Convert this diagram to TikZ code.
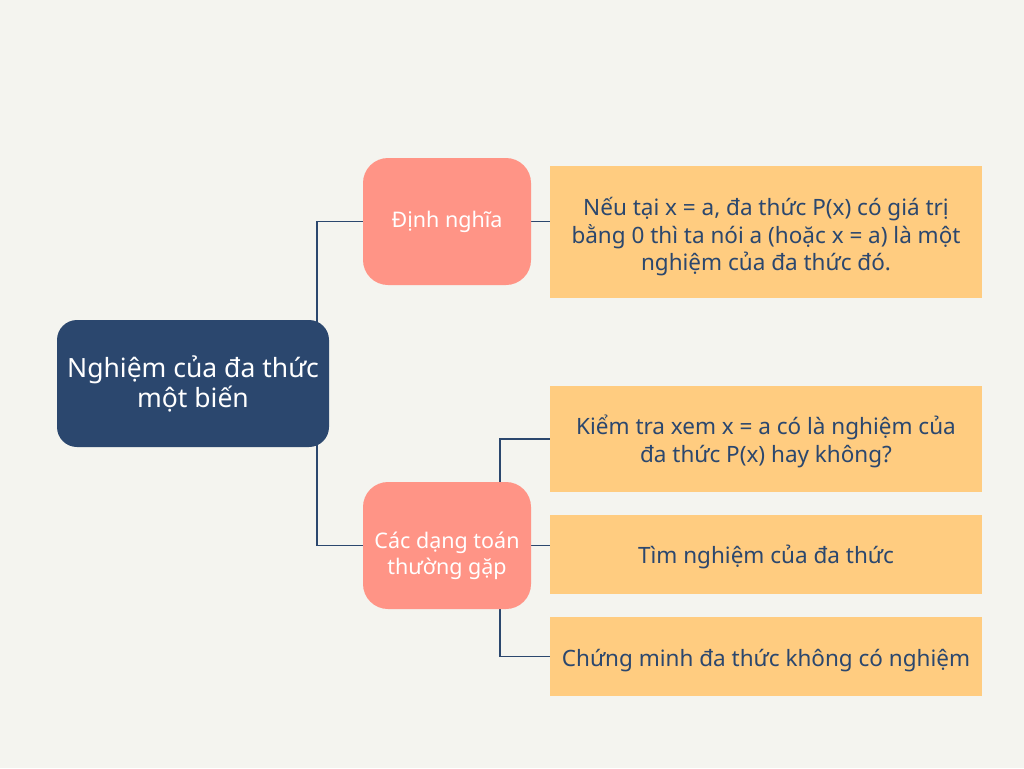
\documentclass[tikz,border=0pt]{standalone}
\usepackage{fontspec}
\setmainfont{Noto Sans}
\usetikzlibrary{backgrounds}
\definecolor{bgcol}{HTML}{F4F4EF}
\definecolor{navy}{HTML}{2B476E}
\definecolor{salmon}{HTML}{FF9486}
\definecolor{sand}{HTML}{FFCC80}
\newcommand\lift[1]{\rule{0pt}{#1}}
\tikzset{x=1pt, y=-1pt,
    rootbox/.style={fill=navy, text=white, rounded corners=20pt,
        minimum width=272pt, minimum height=127pt, align=center,
        inner sep=2pt, font=\fontsize{26.5}{30}\selectfont},
    topicbox/.style={fill=salmon, text=white, rounded corners=25pt,
        minimum width=168pt, minimum height=127pt, align=center,
        inner sep=2pt, font=\fontsize{21.5}{26}\selectfont},
    notebox/.style={fill=sand, text=navy, minimum width=432pt,
        align=center, inner sep=2pt, font=\fontsize{22.5}{27.5}\selectfont},
    link/.style={draw=navy, line width=1.8pt},
    }
\begin{document}
\begin{tikzpicture}
\useasboundingbox (0,0) rectangle (1024,768);
% main topic
\node[rootbox] (root) at (193,383.5) {Nghiệm của đa thức\\một biến};
% branches
\node[topicbox] (dn) at (447,221.5) {Định nghĩa};
\node[topicbox] (cd) at (447,545.5) {\lift{38pt}Các dạng toán\\thường gặp};
% notes
\node[notebox, minimum height=132pt] (dnnote) at (766,232)
    {\lift{28pt}Nếu tại x = a, đa thức P(x) có giá trị\\bằng 0 thì ta nói a (hoặc x = a) là một\\nghiệm của đa thức đó.};
\node[notebox, minimum height=106pt] (kt) at (766,439)
    {\lift{24pt}Kiểm tra xem x = a có là nghiệm của\\đa thức P(x) hay không?};
\node[notebox, minimum height=79pt] (tim) at (766,554.5) {\lift{23pt}Tìm nghiệm của đa thức};
\node[notebox, minimum height=79pt] (cm) at (766,656.5) {\lift{25pt}Chứng minh đa thức không có nghiệm};
\begin{pgfonlayer}{background}
\fill[bgcol] (0,0) rectangle (1024,768);
\draw[link] (dn.west) -| ([xshift=-12pt]root.east) |- (cd.west);
\draw[link] (dn.east) -- (dn.east -| dnnote.west);
\draw[link] (cd.east) -- (cd.east -| tim.west);
\draw[link] (kt.west) -| ([xshift=-31pt]cd.east) |- (cm.west);
\end{pgfonlayer}
\end{tikzpicture}
\end{document}
